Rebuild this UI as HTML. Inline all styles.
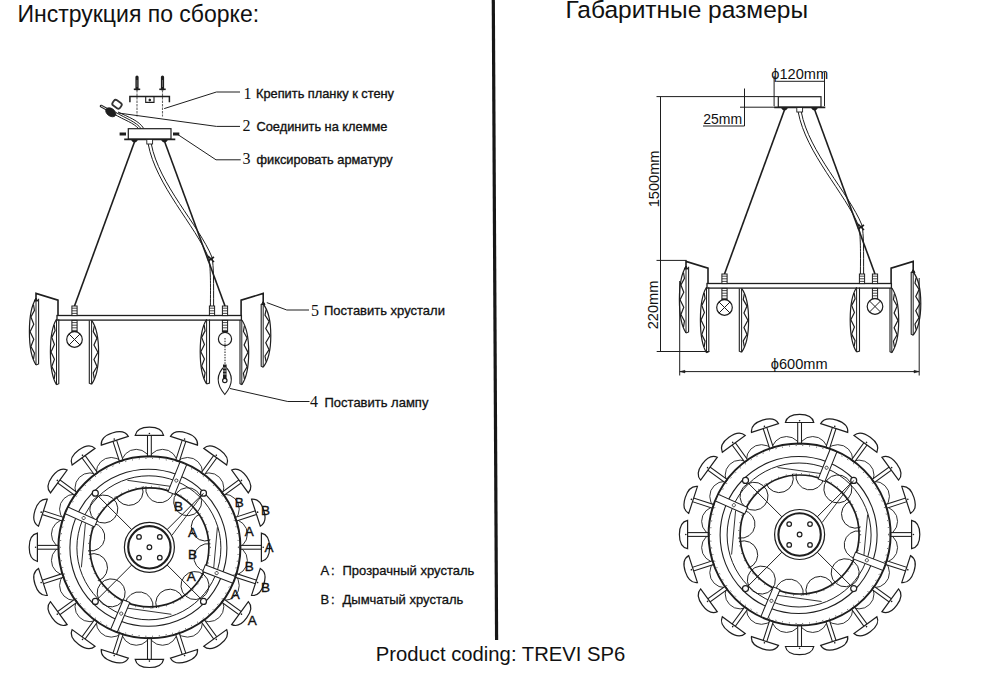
<!DOCTYPE html>
<html><head><meta charset="utf-8"><style>
html,body{margin:0;padding:0;background:#fff;width:1000px;height:690px;overflow:hidden}
svg{position:absolute;left:0;top:0}
text{font-family:"Liberation Sans",sans-serif;fill:#111}
</style></head><body>
<svg width="1000" height="690" viewBox="0 0 1000 690">
<defs>
<g id="side" fill="none" stroke="#1e1e1e"><rect x="128.3" y="128.7" width="42.7" height="10.5" stroke-width="1.2"/><path d="M124.2,139.3 H175.3" stroke-width="1.8"/><path d="M131,139.5 L138,139.5 L136,142 L133,142Z M161,139.5 L168,139.5 L166,142 L163,142Z" fill="#1e1e1e" stroke-width="0.5"/><rect x="146.8" y="139.5" width="5.8" height="4.5" stroke-width="0.9" fill="#fff"/><path d="M134.8,141 L74.5,306" stroke-width="1.6"/><path d="M164.4,141 L225,306" stroke-width="1.6"/><path d="M148.2,144 C155.7,185 195.7,226 208.7,258 C210.7,266 210.6,285 210.4,306" stroke-width="1"/><path d="M151.3,144 C158.8,184 198.8,225 211.9,257 C213.9,266 213.6,285 213.6,306" stroke-width="1"/><path d="M208,256 L214,262 M208,261 L214,257" stroke-width="1.6"/><rect x="57" y="315.5" width="184.4" height="4.6" stroke-width="1.3"/><path d="M58,315.5 V300.2 L36,293.4 V299" stroke-width="1.6"/><path d="M241.1,315.5 V300.2 L263.2,293.4 V303" stroke-width="1.6"/><path d="M36,298.7 C27.2,311.94 27.2,351.66 36,364.9" stroke-width="1.2"/><path d="M36,298.7 L36,364.9" stroke-width="1"/><path d="M38.6,298.7 L38.6,363.9 L36,364.9" stroke-width="1.1"/><path d="M33.49,304.52 L34.44,310.39 L30.92,317.07 L33.77,324.3 L30.06,331.8 L33.77,339.3 L30.92,346.53 L34.44,353.21 L33.49,359.08" stroke-width="1.2"/><path d="M56.5,319.2 C48.37,332.3 48.37,371.6 56.5,384.7" stroke-width="1.2"/><path d="M56.5,319.2 L56.5,384.7" stroke-width="1"/><path d="M58.8,319.2 L58.8,383.7 L56.5,384.7" stroke-width="1.1"/><path d="M54.18,324.96 L55.06,330.76 L51.8,337.38 L54.44,344.53 L51.01,351.95 L54.44,359.37 L51.8,366.52 L55.06,373.14 L54.18,378.94" stroke-width="1.2"/><path d="M91.6,320.4 C100.93,333.16 100.93,371.44 91.6,384.2" stroke-width="1.2"/><path d="M91.6,320.4 L91.6,384.2" stroke-width="1"/><path d="M89.3,320.4 L89.3,383.2 L91.6,384.2" stroke-width="1.1"/><path d="M94.26,326.01 L93.25,331.66 L96.99,338.1 L93.96,345.07 L97.9,352.3 L93.96,359.53 L96.99,366.5 L93.25,372.94 L94.26,378.59" stroke-width="1.2"/><path d="M206.6,319.5 C198.07,332.4 198.07,371.1 206.6,384" stroke-width="1.2"/><path d="M206.6,319.5 L206.6,384" stroke-width="1"/><path d="M209.5,319.5 L209.5,383 L206.6,384" stroke-width="1.1"/><path d="M204.17,325.17 L205.09,330.89 L201.67,337.4 L204.44,344.44 L200.84,351.75 L204.44,359.06 L201.67,366.1 L205.09,372.61 L204.17,378.33" stroke-width="1.2"/><path d="M241.8,320 C251,332.94 251,371.76 241.8,384.7" stroke-width="1.2"/><path d="M241.8,320 L241.8,384.7" stroke-width="1"/><path d="M240,320 L240,383.7 L241.8,384.7" stroke-width="1.1"/><path d="M244.42,325.69 L243.43,331.42 L247.11,337.95 L244.13,345.02 L248.01,352.35 L244.13,359.68 L247.11,366.75 L243.43,373.28 L244.42,379.01" stroke-width="1.2"/><path d="M263.2,304 C273.33,316.64 273.33,354.56 263.2,367.2" stroke-width="1.2"/><path d="M263.2,304 L263.2,367.2" stroke-width="1"/><path d="M261.2,304 L261.2,366.2 L263.2,367.2" stroke-width="1.1"/><path d="M266.09,309.56 L265,315.16 L269.05,321.54 L265.76,328.44 L270.04,335.6 L265.76,342.76 L269.05,349.66 L265,356.04 L266.09,361.64" stroke-width="1.2"/><path d="M36,298 l-1.8,3 h3.6z M263.2,301.5 l-1.8,3 h3.6z" fill="#1e1e1e" stroke-width="1"/><rect x="71.9" y="306" width="5.2" height="9.6" stroke-width="1" fill="#fff"/><path d="M71.9,308.2 h5.2" stroke-width="0.8"/><path d="M71.9,310.8 h5.2" stroke-width="0.8"/><path d="M71.9,313.4 h5.2" stroke-width="0.8"/><rect x="71.9" y="320.4" width="5.2" height="11.1" stroke-width="1" fill="#fff"/><path d="M71.9,322.6 h5.2" stroke-width="0.8"/><path d="M71.9,325.2 h5.2" stroke-width="0.8"/><path d="M71.9,327.8 h5.2" stroke-width="0.8"/><path d="M71.9,330.4 h5.2" stroke-width="0.8"/><rect x="209.4" y="306" width="5.2" height="9.6" stroke-width="1" fill="#fff"/><path d="M209.4,308.2 h5.2" stroke-width="0.8"/><path d="M209.4,310.8 h5.2" stroke-width="0.8"/><path d="M209.4,313.4 h5.2" stroke-width="0.8"/><rect x="222.4" y="306" width="5.2" height="9.6" stroke-width="1" fill="#fff"/><path d="M222.4,308.2 h5.2" stroke-width="0.8"/><path d="M222.4,310.8 h5.2" stroke-width="0.8"/><path d="M222.4,313.4 h5.2" stroke-width="0.8"/><rect x="222.4" y="320.4" width="5.2" height="11.1" stroke-width="1" fill="#fff"/><path d="M222.4,322.6 h5.2" stroke-width="0.8"/><path d="M222.4,325.2 h5.2" stroke-width="0.8"/><path d="M222.4,327.8 h5.2" stroke-width="0.8"/><path d="M222.4,330.4 h5.2" stroke-width="0.8"/><circle cx="74.5" cy="339.5" r="7.8" stroke-width="1.2" fill="#fff"/><path d="M69,334 L80,345 M80,334 L69,345" stroke-width="1"/></g>
<g id="top" fill="none" stroke="#1e1e1e"><circle cx="13.14" cy="-82.97" r="15" stroke-width="0.9"/><circle cx="38.14" cy="-74.84" r="15" stroke-width="0.9"/><circle cx="59.4" cy="-59.4" r="15" stroke-width="0.9"/><circle cx="74.84" cy="-38.14" r="15" stroke-width="0.9"/><circle cx="82.97" cy="-13.14" r="15" stroke-width="0.9"/><circle cx="82.97" cy="13.14" r="15" stroke-width="0.9"/><circle cx="74.84" cy="38.14" r="15" stroke-width="0.9"/><circle cx="59.4" cy="59.4" r="15" stroke-width="0.9"/><circle cx="38.14" cy="74.84" r="15" stroke-width="0.9"/><circle cx="13.14" cy="82.97" r="15" stroke-width="0.9"/><circle cx="-13.14" cy="82.97" r="15" stroke-width="0.9"/><circle cx="-38.14" cy="74.84" r="15" stroke-width="0.9"/><circle cx="-59.4" cy="59.4" r="15" stroke-width="0.9"/><circle cx="-74.84" cy="38.14" r="15" stroke-width="0.9"/><circle cx="-82.97" cy="13.14" r="15" stroke-width="0.9"/><circle cx="-82.97" cy="-13.14" r="15" stroke-width="0.9"/><circle cx="-74.84" cy="-38.14" r="15" stroke-width="0.9"/><circle cx="-59.4" cy="-59.4" r="15" stroke-width="0.9"/><circle cx="-38.14" cy="-74.84" r="15" stroke-width="0.9"/><circle cx="-13.14" cy="-82.97" r="15" stroke-width="0.9"/><circle cx="0" cy="0" r="91" fill="#fff" stroke="none"/><g transform="rotate(0)"><rect x="-1.9" y="-112.6" width="3.8" height="22" fill="#fff" stroke-width="1.05"/><path d="M-14.2,-112 C-13.2,-117 -8,-120.2 0,-120.2 C8,-120.2 13.2,-117 14.2,-112 Z" fill="#fff" stroke-width="1.2"/><circle cx="0" cy="-113.8" r="0.8" fill="#1e1e1e" stroke="none"/></g><g transform="rotate(18)"><rect x="-1.9" y="-112.6" width="3.8" height="22" fill="#fff" stroke-width="1.05"/><path d="M-14.2,-112 C-13.2,-117 -8,-120.2 0,-120.2 C8,-120.2 13.2,-117 14.2,-112 Z" fill="#fff" stroke-width="1.2"/><circle cx="0" cy="-113.8" r="0.8" fill="#1e1e1e" stroke="none"/></g><g transform="rotate(36)"><rect x="-1.9" y="-112.6" width="3.8" height="22" fill="#fff" stroke-width="1.05"/><path d="M-14.2,-112 C-13.2,-117 -8,-120.2 0,-120.2 C8,-120.2 13.2,-117 14.2,-112 Z" fill="#fff" stroke-width="1.2"/><circle cx="0" cy="-113.8" r="0.8" fill="#1e1e1e" stroke="none"/></g><g transform="rotate(54)"><rect x="-1.9" y="-112.6" width="3.8" height="22" fill="#fff" stroke-width="1.05"/><path d="M-14.2,-112 C-13.2,-117 -8,-120.2 0,-120.2 C8,-120.2 13.2,-117 14.2,-112 Z" fill="#fff" stroke-width="1.2"/><circle cx="0" cy="-113.8" r="0.8" fill="#1e1e1e" stroke="none"/></g><g transform="rotate(72)"><rect x="-1.9" y="-112.6" width="3.8" height="22" fill="#fff" stroke-width="1.05"/><path d="M-14.2,-112 C-13.2,-117 -8,-120.2 0,-120.2 C8,-120.2 13.2,-117 14.2,-112 Z" fill="#fff" stroke-width="1.2"/><circle cx="0" cy="-113.8" r="0.8" fill="#1e1e1e" stroke="none"/></g><g transform="rotate(90)"><rect x="-1.9" y="-112.6" width="3.8" height="22" fill="#fff" stroke-width="1.05"/><path d="M-14.2,-112 C-13.2,-117 -8,-120.2 0,-120.2 C8,-120.2 13.2,-117 14.2,-112 Z" fill="#fff" stroke-width="1.2"/><circle cx="0" cy="-113.8" r="0.8" fill="#1e1e1e" stroke="none"/></g><g transform="rotate(108)"><rect x="-1.9" y="-112.6" width="3.8" height="22" fill="#fff" stroke-width="1.05"/><path d="M-14.2,-112 C-13.2,-117 -8,-120.2 0,-120.2 C8,-120.2 13.2,-117 14.2,-112 Z" fill="#fff" stroke-width="1.2"/><circle cx="0" cy="-113.8" r="0.8" fill="#1e1e1e" stroke="none"/></g><g transform="rotate(126)"><rect x="-1.9" y="-112.6" width="3.8" height="22" fill="#fff" stroke-width="1.05"/><path d="M-14.2,-112 C-13.2,-117 -8,-120.2 0,-120.2 C8,-120.2 13.2,-117 14.2,-112 Z" fill="#fff" stroke-width="1.2"/><circle cx="0" cy="-113.8" r="0.8" fill="#1e1e1e" stroke="none"/></g><g transform="rotate(144)"><rect x="-1.9" y="-112.6" width="3.8" height="22" fill="#fff" stroke-width="1.05"/><path d="M-14.2,-112 C-13.2,-117 -8,-120.2 0,-120.2 C8,-120.2 13.2,-117 14.2,-112 Z" fill="#fff" stroke-width="1.2"/><circle cx="0" cy="-113.8" r="0.8" fill="#1e1e1e" stroke="none"/></g><g transform="rotate(162)"><rect x="-1.9" y="-112.6" width="3.8" height="22" fill="#fff" stroke-width="1.05"/><path d="M-14.2,-112 C-13.2,-117 -8,-120.2 0,-120.2 C8,-120.2 13.2,-117 14.2,-112 Z" fill="#fff" stroke-width="1.2"/><circle cx="0" cy="-113.8" r="0.8" fill="#1e1e1e" stroke="none"/></g><g transform="rotate(180)"><rect x="-1.9" y="-112.6" width="3.8" height="22" fill="#fff" stroke-width="1.05"/><path d="M-14.2,-112 C-13.2,-117 -8,-120.2 0,-120.2 C8,-120.2 13.2,-117 14.2,-112 Z" fill="#fff" stroke-width="1.2"/><circle cx="0" cy="-113.8" r="0.8" fill="#1e1e1e" stroke="none"/></g><g transform="rotate(198)"><rect x="-1.9" y="-112.6" width="3.8" height="22" fill="#fff" stroke-width="1.05"/><path d="M-14.2,-112 C-13.2,-117 -8,-120.2 0,-120.2 C8,-120.2 13.2,-117 14.2,-112 Z" fill="#fff" stroke-width="1.2"/><circle cx="0" cy="-113.8" r="0.8" fill="#1e1e1e" stroke="none"/></g><g transform="rotate(216)"><rect x="-1.9" y="-112.6" width="3.8" height="22" fill="#fff" stroke-width="1.05"/><path d="M-14.2,-112 C-13.2,-117 -8,-120.2 0,-120.2 C8,-120.2 13.2,-117 14.2,-112 Z" fill="#fff" stroke-width="1.2"/><circle cx="0" cy="-113.8" r="0.8" fill="#1e1e1e" stroke="none"/></g><g transform="rotate(234)"><rect x="-1.9" y="-112.6" width="3.8" height="22" fill="#fff" stroke-width="1.05"/><path d="M-14.2,-112 C-13.2,-117 -8,-120.2 0,-120.2 C8,-120.2 13.2,-117 14.2,-112 Z" fill="#fff" stroke-width="1.2"/><circle cx="0" cy="-113.8" r="0.8" fill="#1e1e1e" stroke="none"/></g><g transform="rotate(252)"><rect x="-1.9" y="-112.6" width="3.8" height="22" fill="#fff" stroke-width="1.05"/><path d="M-14.2,-112 C-13.2,-117 -8,-120.2 0,-120.2 C8,-120.2 13.2,-117 14.2,-112 Z" fill="#fff" stroke-width="1.2"/><circle cx="0" cy="-113.8" r="0.8" fill="#1e1e1e" stroke="none"/></g><g transform="rotate(270)"><rect x="-1.9" y="-112.6" width="3.8" height="22" fill="#fff" stroke-width="1.05"/><path d="M-14.2,-112 C-13.2,-117 -8,-120.2 0,-120.2 C8,-120.2 13.2,-117 14.2,-112 Z" fill="#fff" stroke-width="1.2"/><circle cx="0" cy="-113.8" r="0.8" fill="#1e1e1e" stroke="none"/></g><g transform="rotate(288)"><rect x="-1.9" y="-112.6" width="3.8" height="22" fill="#fff" stroke-width="1.05"/><path d="M-14.2,-112 C-13.2,-117 -8,-120.2 0,-120.2 C8,-120.2 13.2,-117 14.2,-112 Z" fill="#fff" stroke-width="1.2"/><circle cx="0" cy="-113.8" r="0.8" fill="#1e1e1e" stroke="none"/></g><g transform="rotate(306)"><rect x="-1.9" y="-112.6" width="3.8" height="22" fill="#fff" stroke-width="1.05"/><path d="M-14.2,-112 C-13.2,-117 -8,-120.2 0,-120.2 C8,-120.2 13.2,-117 14.2,-112 Z" fill="#fff" stroke-width="1.2"/><circle cx="0" cy="-113.8" r="0.8" fill="#1e1e1e" stroke="none"/></g><g transform="rotate(324)"><rect x="-1.9" y="-112.6" width="3.8" height="22" fill="#fff" stroke-width="1.05"/><path d="M-14.2,-112 C-13.2,-117 -8,-120.2 0,-120.2 C8,-120.2 13.2,-117 14.2,-112 Z" fill="#fff" stroke-width="1.2"/><circle cx="0" cy="-113.8" r="0.8" fill="#1e1e1e" stroke="none"/></g><g transform="rotate(342)"><rect x="-1.9" y="-112.6" width="3.8" height="22" fill="#fff" stroke-width="1.05"/><path d="M-14.2,-112 C-13.2,-117 -8,-120.2 0,-120.2 C8,-120.2 13.2,-117 14.2,-112 Z" fill="#fff" stroke-width="1.2"/><circle cx="0" cy="-113.8" r="0.8" fill="#1e1e1e" stroke="none"/></g><circle cx="0" cy="0" r="91" stroke-width="2"/><circle cx="0" cy="0" r="89" stroke-width="1" stroke-dasharray="0.8 6"/><circle cx="-1" cy="0.5" r="78.5" stroke-width="1.1"/><circle cx="-0.5" cy="0.5" r="72" stroke-width="1"/><path d="M-22,-67 L28,-60" stroke-width="0.9"/><path d="M22,67 L-28,60" stroke-width="0.9"/><path d="M-68,20 L-64,-24" stroke-width="0.9"/><path d="M68,-20 L64,24" stroke-width="0.9"/><g transform="translate(58.6,10.33) rotate(100)"><path d="M-14,0 A14,14 0 0 0 14,0" stroke-width="0.9"/></g><g transform="translate(45.58,38.25) rotate(130)"><path d="M-14,0 A14,14 0 0 0 14,0" stroke-width="0.9"/></g><g transform="translate(45.58,38.25) rotate(130)"><path d="M-14,0 A14,14 0 0 1 14,0" stroke-width="0.9"/></g><g transform="translate(20.35,55.91) rotate(160)"><path d="M-14,0 A14,14 0 0 0 14,0" stroke-width="0.9"/></g><g transform="translate(-10.33,58.6) rotate(190)"><path d="M-14,0 A14,14 0 0 0 14,0" stroke-width="0.9"/></g><g transform="translate(-38.25,45.58) rotate(220)"><path d="M-14,0 A14,14 0 0 0 14,0" stroke-width="0.9"/></g><g transform="translate(-38.25,45.58) rotate(220)"><path d="M-14,0 A14,14 0 0 1 14,0" stroke-width="0.9"/></g><g transform="translate(-55.91,20.35) rotate(250)"><path d="M-14,0 A14,14 0 0 0 14,0" stroke-width="0.9"/></g><g transform="translate(-58.6,-10.33) rotate(280)"><path d="M-14,0 A14,14 0 0 0 14,0" stroke-width="0.9"/></g><g transform="translate(-45.58,-38.25) rotate(310)"><path d="M-14,0 A14,14 0 0 0 14,0" stroke-width="0.9"/></g><g transform="translate(-45.58,-38.25) rotate(310)"><path d="M-14,0 A14,14 0 0 1 14,0" stroke-width="0.9"/></g><g transform="translate(-20.35,-55.91) rotate(340)"><path d="M-14,0 A14,14 0 0 0 14,0" stroke-width="0.9"/></g><g transform="translate(10.33,-58.6) rotate(370)"><path d="M-14,0 A14,14 0 0 0 14,0" stroke-width="0.9"/></g><g transform="translate(38.25,-45.58) rotate(400)"><path d="M-14,0 A14,14 0 0 0 14,0" stroke-width="0.9"/></g><g transform="translate(38.25,-45.58) rotate(400)"><path d="M-14,0 A14,14 0 0 1 14,0" stroke-width="0.9"/></g><g transform="translate(55.91,-20.35) rotate(430)"><path d="M-14,0 A14,14 0 0 0 14,0" stroke-width="0.9"/></g><circle cx="0" cy="0" r="59.5" stroke-width="1.7"/><circle cx="0" cy="0" r="61.0" stroke-width="0.9" stroke-dasharray="0.8 7"/><g transform="rotate(-68)"><rect x="58.5" y="-3.6" width="32" height="7.2" fill="#fff" stroke-width="1"/><circle cx="72" cy="0" r="1.6" stroke-width="0.7"/></g><g transform="rotate(21)"><rect x="58.5" y="-3.6" width="32" height="7.2" fill="#fff" stroke-width="1"/><circle cx="72" cy="0" r="1.6" stroke-width="0.7"/></g><g transform="rotate(113)"><rect x="58.5" y="-3.6" width="32" height="7.2" fill="#fff" stroke-width="1"/><circle cx="72" cy="0" r="1.6" stroke-width="0.7"/></g><g transform="rotate(204)"><rect x="58.5" y="-3.6" width="32" height="7.2" fill="#fff" stroke-width="1"/><circle cx="72" cy="0" r="1.6" stroke-width="0.7"/></g><path d="M17.68,17.68 L54.09,54.09" stroke-width="1"/><circle cx="54.09" cy="54.09" r="3" fill="#fff" stroke-width="1.2"/><path d="M-17.68,17.68 L-54.09,54.09" stroke-width="1"/><circle cx="-54.09" cy="54.09" r="3" fill="#fff" stroke-width="1.2"/><path d="M-17.68,-17.68 L-54.09,-54.09" stroke-width="1"/><circle cx="-54.09" cy="-54.09" r="3" fill="#fff" stroke-width="1.2"/><path d="M17.68,-17.68 L54.09,-54.09" stroke-width="1"/><circle cx="54.09" cy="-54.09" r="3" fill="#fff" stroke-width="1.2"/><path d="M22.52,-11.97 L54.09,-54.09" stroke-width="0.9"/><circle cx="0" cy="0" r="25" fill="#fff" stroke-width="1.2"/><circle cx="0" cy="0" r="21.2" stroke-width="2.1"/><circle cx="0" cy="0" r="2.3" stroke-width="1.25"/><circle cx="-10.4" cy="-10.4" r="2.3" stroke-width="1.25"/><circle cx="10.4" cy="-10.4" r="2.3" stroke-width="1.25"/><circle cx="-10.4" cy="10.4" r="2.3" stroke-width="1.25"/><circle cx="10.4" cy="10.4" r="2.3" stroke-width="1.25"/></g>
</defs>
<rect width="1000" height="690" fill="#fff"/>
<path d="M493.3,0 L496.6,640" stroke="#161616" stroke-width="3.2"/>
<text x="17.5" y="22" font-size="23">Инструкция по сборке:</text>
<text x="565.4" y="17.6" font-size="24.5">Габаритные размеры</text>
<text x="375.8" y="661" font-size="20.25">Product coding: TREVI SP6</text>

<use href="#side"/>
<g fill="none" stroke="#1e1e1e"><circle cx="225" cy="339" r="6.6" stroke-width="1.2" fill="#fff"/><path d="M225,338 V364" stroke-width="1" stroke-dasharray="1.5 1.2"/><path d="M224.8,366 C216.5,374 216,384 224.8,394.5 C233.5,384 233,374 224.8,366Z" stroke-width="1.1"/><path d="M224.8,364.5 V380" stroke-width="3.6"/><circle cx="224.8" cy="380.5" r="2.2" stroke-width="1.2" fill="#fff"/><path d="M223,368 h3.6 M223,371 h3.6 M223,374 h3.6" stroke="#fff" stroke-width="0.7"/><path d="M119.6,134 H126 M173,134 H179.3" stroke-width="3"/><path d="M137,77 V89" stroke-width="3.2" stroke-linecap="round"/><path d="M133.8,89.3 H140.2" stroke-width="1.6"/><path d="M137,90 V116.5" stroke="#666" stroke-width="1.1" stroke-dasharray="2.5 1"/><path d="M137,80 V87" stroke="#999" stroke-width="0.6"/><path d="M162.5,77 V89" stroke-width="3.2" stroke-linecap="round"/><path d="M159.3,89.3 H165.7" stroke-width="1.6"/><path d="M162.5,90 V116.5" stroke="#666" stroke-width="1.1" stroke-dasharray="2.5 1"/><path d="M162.5,80 V87" stroke="#999" stroke-width="0.6"/><path d="M129.9,102.3 V96.6 H169.4 V102.3" stroke-width="1.5"/><path d="M145.7,96.6 V102.4 H154 V96.6" stroke-width="1.1"/><circle cx="149.8" cy="100" r="0.9" fill="#1e1e1e"/><path d="M101,106 L112,112" stroke-width="2.6" stroke-linecap="round"/><path d="M101,106 L112,112" stroke="#fff" stroke-width="0.8"/><ellipse cx="110.8" cy="112.3" rx="5.6" ry="3.8" transform="rotate(35 110.8 112.3)" fill="#1e1e1e" stroke-width="0.8"/><rect x="112.5" y="101" width="9" height="6.5" rx="2.2" transform="rotate(35 117 104.3)" stroke-width="1.8" stroke="#333"/><path d="M114,114 C124,120 134,123 138.5,128.6 M116,112.5 C126,118.5 136.5,122 141,128.6 M118,112 C128,117 139,120.5 143.8,128.6" stroke-width="1"/><path d="M164.2,108.6 L216.4,92 H240" stroke-width="1"/><path d="M118.4,113 L216.4,126.4 H240" stroke-width="1"/><path d="M176.7,133.8 L216,159.8 H240.7" stroke-width="1"/><path d="M266.8,302.6 L286.8,310 H309" stroke-width="1"/><path d="M230,388.5 L287.8,401.5 H309.5" stroke-width="1"/></g>
<g transform="translate(650,-32)"><use href="#side"/><g fill="none" stroke="#1e1e1e"><circle cx="225" cy="338.5" r="7.8" stroke-width="1.2" fill="#fff"/><path d="M219.5,333 L230.5,344 M230.5,333 L219.5,344" stroke-width="1"/></g></g>

<g font-family="Liberation Serif" font-size="16" fill="#111">
<text x="243.5" y="98.5" style="font-family:'Liberation Serif'">1</text>
<text x="242.5" y="131" style="font-family:'Liberation Serif'">2</text>
<text x="242.5" y="164" style="font-family:'Liberation Serif'">3</text>
<text x="311" y="315.5" style="font-family:'Liberation Serif'">5</text>
<text x="310" y="407" style="font-family:'Liberation Serif'">4</text>
</g>
<g font-size="12.8" stroke="#111" stroke-width="0.35">
<text x="256" y="98">Крепить планку к стену</text>
<text x="256.5" y="130.5">Соединить на клемме</text>
<text x="256.5" y="163.5">фиксировать арматуру</text>
</g>
<g font-size="13" stroke="#111" stroke-width="0.3">
<text x="324" y="315">Поставить хрустали</text>
<text x="324.5" y="406.5">Поставить лампу</text>
<text x="320.5" y="575">A</text><text x="331" y="575">:</text>
<text x="342.5" y="575">Прозрачный хрусталь</text>
<text x="320.5" y="604">B</text><text x="331" y="604">:</text>
<text x="342.5" y="604">Дымчатый хрусталь</text>
</g>

<use href="#top" transform="translate(149.4,547.3)"/>
<use href="#top" transform="translate(799.6,534.5)"/>
<g font-size="13.5" text-anchor="middle" stroke="#111" stroke-width="0.35">
<text x="178.5" y="511">B</text><text x="192.4" y="537">A</text><text x="192.4" y="559">B</text><text x="191.3" y="581">A</text>
<text x="239.2" y="507">B</text><text x="265.4" y="515">B</text><text x="249.2" y="536">A</text><text x="268.9" y="552">A</text>
<text x="249.2" y="570.5">B</text><text x="265.4" y="591.5">B</text><text x="235.3" y="598.5">A</text><text x="252.2" y="625">A</text>
</g>

<!-- dimensions -->
<g fill="none" stroke="#1e1e1e" stroke-width="1">
<path d="M656.5,96.6 H778"/>
<path d="M660.5,96.6 V352"/>
<path d="M656.5,260.4 H686.7"/>
<path d="M656.7,351.5 H709.4"/>
<path d="M774.1,76 V106 M824.5,72.2 V106 M776.2,81.3 H824.5"/>
<path d="M740,107.2 H775 M744.5,88.5 V126 M703,126 H744.5"/>
<path d="M679.7,281 V375.5 M919.2,278 V375.5 M679.7,371.6 H919.2"/><path d="M680,371.6 l5,-1.3 v2.6z M919,371.6 l-5,-1.3 v2.6z" fill="#1e1e1e" stroke-width="0.5"/>
</g>
<g font-size="14.6">
<text x="771.3" y="79">ϕ120mm</text>
<text x="703.2" y="124.4" font-size="14">25mm</text>
<text x="770.8" y="369">ϕ600mm</text>
<text transform="translate(658.6,207.3) rotate(-90)">1500mm</text>
<text transform="translate(658.4,329.3) rotate(-90)">220mm</text>
</g>
</svg>
</body></html>
